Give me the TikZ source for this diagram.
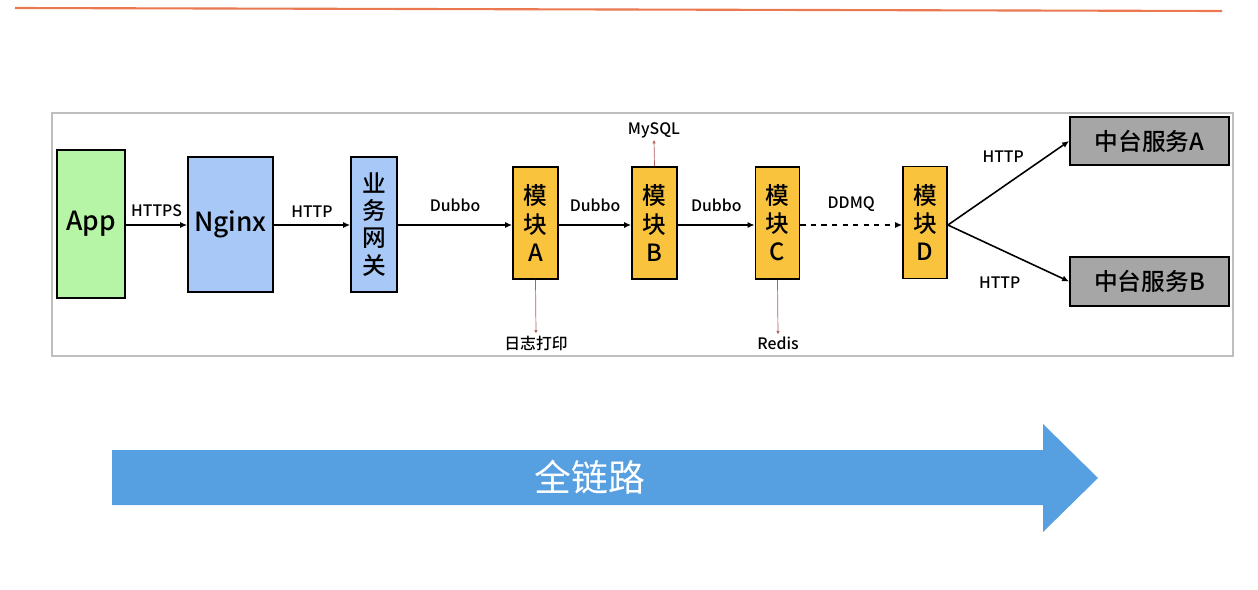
\documentclass[tikz,border=0pt]{standalone}
\usepackage{fontspec}
\setmainfont{Noto Sans CJK SC}[BoldFont={* Medium}]
\usepackage{tikz}
\usetikzlibrary{arrows.meta}
\usetikzlibrary{positioning}
\definecolor{appgreen}{RGB}{183,245,166}
\definecolor{gateblue}{RGB}{168,200,248}
\definecolor{modorange}{RGB}{250,195,62}
\definecolor{svcgray}{RGB}{166,166,166}
\definecolor{chainblue}{RGB}{86,159,224}
\definecolor{sidered}{RGB}{176,96,96}
\definecolor{topline}{RGB}{234,120,80}
\definecolor{framegray}{RGB}{190,190,190}
\tikzstyle{box} = [draw, line width=1pt, inner sep=0, align=center]
\tikzstyle{modbox} = [box, fill=modorange, minimum width=0.9cm, minimum height=2.24cm, font=\fontsize{13.5}{16}\selectfont\bfseries]
\tikzstyle{svcbox} = [box, fill=svcgray, minimum width=3.18cm, minimum height=0.97cm, font=\fontsize{13.5}{16}\selectfont\bfseries]
\tikzstyle{flow} = [-{Latex[length=4pt,width=3.5pt]}, line width=0.9pt]
\tikzstyle{side} = [-{Latex[length=2pt,width=2pt]}, line width=0.4pt, draw=sidered]
\tikzstyle{proto} = [font=\fontsize{9}{10}\selectfont\bfseries, inner sep=1pt]

\begin{document}
\begin{tikzpicture}[x=0.02cm, y=-0.02cm]
    \useasboundingbox (0,0) rectangle (1258,589);
    % Frame
    \draw[topline, line width=1.2pt] (15,8) -- (1222,11);
    \draw[framegray, line width=0.6pt] (52,113) rectangle (1233,356);

    % Nodes
    \node[box, fill=appgreen, minimum width=1.36cm, minimum height=2.96cm, font=\fontsize{15}{17}\selectfont\bfseries] (app) at (91,224) {App};
    \node[box, fill=gateblue, minimum width=1.7cm, minimum height=2.7cm, font=\fontsize{15}{17}\selectfont\bfseries] (nginx) at (230.5,224.5) {Nginx};
    \node[box, fill=gateblue, minimum width=0.92cm, minimum height=2.7cm, font=\fontsize{13.5}{15.5}\selectfont\bfseries] (gateway) at (374,224.5) {业\\务\\网\\关};
    \node[modbox] (moda) at (535.5,223) {模\\块\\A};
    \node[modbox] (modb) at (654.5,223) {模\\块\\B};
    \node[modbox, minimum width=0.88cm] (modc) at (777.5,223) {模\\块\\C};
    \node[modbox, minimum width=0.88cm] (modd) at (925,222.5) {模\\块\\D};
    \node[svcbox] (svca) at (1149.5,141) {中台服务A};
    \node[svcbox] (svcb) at (1149.5,281.5) {中台服务B};

    \node[proto] (mysql) at (654,130) {MySQL};
    \node[proto] (log) at (536,343) {日志打印};
    \node[proto] (redis) at (778,343) {Redis};

    % Connecting lines
    \draw[flow] (app.east |- 0,225) -- (nginx.west |- 0,225) node[midway, above=3pt, proto] {HTTPS};
    \draw[flow] (nginx.east |- 0,225) -- (gateway.west |- 0,225) node[midway, above=3pt, proto] {HTTP};
    \draw[flow] (gateway.east |- 0,225) -- (moda.west |- 0,225) node[midway, above=6pt, proto] {Dubbo};
    \draw[flow] (moda.east |- 0,225) -- (modb.west |- 0,225) node[midway, above=6pt, proto] {Dubbo};
    \draw[flow] (modb.east |- 0,225) -- (modc.west |- 0,225) node[midway, above=6pt, proto] {Dubbo};
    \draw[flow, dashed] (modc.east |- 0,225) -- (modd.west |- 0,225) node[midway, above=6pt, proto] {DDMQ};
    \draw[flow] (modd.east |- 0,225) -- (svca.west) node[midway, xshift=-3pt, yshift=15pt, proto] {HTTP};
    \draw[flow] (modd.east |- 0,225) -- (svcb.west) node[midway, xshift=-5pt, yshift=-17pt, proto] {HTTP};

    \draw[side] (modb.north) -- (mysql.south);
    \draw[side] (moda.south) -- (log.north);
    \draw[side] (modc.south) -- (redis.north);

    % Full chain arrow
    \fill[chainblue] (112,450) -- (1043,450) -- (1043,424) -- (1098,478) -- (1043,532) -- (1043,505) -- (112,505) -- cycle;
    \node[text=white, font=\fontsize{21}{24}\selectfont] (chain) at (590,477) {全链路};
\end{tikzpicture}
\end{document}
